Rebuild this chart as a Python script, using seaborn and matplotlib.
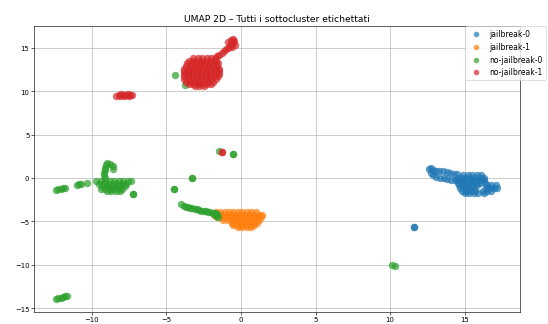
import matplotlib
matplotlib.use("Agg")
import matplotlib.pyplot as plt
import seaborn as sns
import pandas as pd

# UMAP 2D embedding: (x, y) points of each labelled sub-cluster
jailbreak_0 = [
    # elongated left arm
    (12.6, 1.05), (12.75, 1.2), (12.9, 0.95), (13.1, 0.85), (13.3, 0.8), (13.55, 0.75),
    (13.8, 0.65), (14.05, 0.6), (14.3, 0.5), (14.5, 0.5), (12.75, 0.55), (12.9, 0.3),
    (13.1, 0.1), (13.35, 0.0), (13.6, -0.05), (13.85, -0.1), (14.1, -0.2), (14.35, -0.25),
    # main body
    (14.9, 0.35), (15.2, 0.35), (15.5, 0.35), (15.8, 0.35), (16.1, 0.35),
    (14.6, 0.05), (14.9, 0.05), (15.2, 0.05), (15.5, 0.05), (15.8, 0.05), (16.1, 0.05), (16.3, 0.05),
    (14.5, -0.25), (14.8, -0.25), (15.1, -0.25), (15.4, -0.25), (15.7, -0.25), (16.0, -0.25), (16.3, -0.25),
    (14.55, -0.55), (14.85, -0.55), (15.15, -0.55), (15.45, -0.55), (15.75, -0.55), (16.05, -0.55),
    (16.35, -0.55),
    (14.6, -0.85), (14.9, -0.85), (15.2, -0.85), (15.5, -0.85), (15.8, -0.85), (16.5, -0.85),
    (16.8, -0.85), (17.1, -0.85),
    (14.7, -1.15), (15.0, -1.15), (15.3, -1.15), (15.6, -1.15), (16.4, -1.15), (16.7, -1.15),
    (17.0, -1.15), (17.2, -1.15),
    (14.8, -1.45), (15.1, -1.45), (15.4, -1.45), (15.7, -1.45), (16.2, -1.45), (16.5, -1.45), (16.8, -1.45),
    (15.0, -1.7), (15.3, -1.7), (15.6, -1.7), (15.9, -1.7), (16.3, -1.7),
    # isolated point
    (11.6, -5.65), (11.6, -5.6),
]

jailbreak_1 = [
    (-1.7, -3.95), (-1.4, -3.95), (-1.1, -3.95), (-0.8, -3.95), (-0.5, -3.95), (-0.2, -3.95),
    (0.1, -3.95), (0.4, -3.95), (0.7, -3.95), (1.0, -3.95),
    (-1.8, -4.25), (-1.5, -4.25), (-1.2, -4.25), (-0.9, -4.25), (-0.6, -4.25), (-0.3, -4.25),
    (0.0, -4.25), (0.3, -4.25), (0.6, -4.25), (0.9, -4.25), (1.2, -4.25), (1.4, -4.25),
    (-1.6, -4.55), (-1.3, -4.55), (-1.0, -4.55), (-0.7, -4.55), (-0.4, -4.55), (-0.1, -4.55),
    (0.2, -4.55), (0.5, -4.55), (0.8, -4.55), (1.1, -4.55), (1.35, -4.55),
    (-1.2, -4.85), (-0.9, -4.85), (-0.6, -4.85), (-0.3, -4.85), (0.0, -4.85), (0.3, -4.85),
    (0.6, -4.85), (0.9, -4.85), (1.2, -4.85),
    (-0.6, -5.15), (-0.3, -5.15), (0.0, -5.15), (0.3, -5.15), (0.6, -5.15), (0.9, -5.15), (1.1, -5.15),
    (-0.55, -5.45), (-0.25, -5.45), (0.05, -5.45), (0.35, -5.45), (0.65, -5.45), (0.9, -5.45),
    (-0.2, -5.7), (0.1, -5.7), (0.4, -5.7), (0.7, -5.7),
]

no_jailbreak_0 = [
    # thin band running into the jailbreak-1 cluster
    (-4.0, -3.05), (-3.85, -3.2), (-3.7, -3.3), (-3.55, -3.38), (-3.4, -3.45), (-3.25, -3.5),
    (-3.1, -3.55), (-2.95, -3.62), (-2.8, -3.7), (-2.65, -3.75), (-2.5, -3.8), (-2.35, -3.85),
    (-2.2, -3.9), (-2.05, -3.95), (-1.9, -4.0), (-1.75, -4.05), (-1.6, -4.1), (-1.8, -4.2),
    (-1.7, -4.35), (-1.55, -4.5),
    # scattered points
    (-4.5, -1.3), (-4.5, -1.25), (-3.25, -0.05), (-3.25, 0.0),
    (-1.45, 3.15), (-0.55, 2.8), (-0.5, 2.75),
    (10.15, -10.0), (10.3, -10.1),
    (-4.4, 11.9), (-3.75, 10.7),
    # far-left segments
    (-12.4, -1.4), (-12.25, -1.32), (-12.1, -1.25), (-11.95, -1.18), (-11.8, -1.1),
    (-11.0, -0.85), (-10.85, -0.75), (-10.7, -0.68), (-10.3, -0.6),
    # hook above the left cluster
    (-9.15, 0.0), (-9.2, 0.3), (-9.2, 0.6), (-9.15, 0.9), (-9.1, 1.2), (-9.05, 1.5),
    (-8.95, 1.7), (-8.75, 1.6), (-8.6, 1.35), (-8.55, 1.05),
    # left cluster body
    (-9.7, -0.35), (-9.4, -0.35), (-9.1, -0.35), (-8.8, -0.35), (-8.5, -0.35), (-8.2, -0.35),
    (-7.9, -0.35), (-7.6, -0.35), (-7.4, -0.35),
    (-9.5, -0.65), (-9.2, -0.65), (-8.9, -0.65), (-8.6, -0.65), (-8.3, -0.65), (-8.0, -0.65), (-7.7, -0.65),
    (-9.3, -0.95), (-9.0, -0.95), (-8.7, -0.95), (-8.4, -0.95), (-8.1, -0.95), (-7.8, -0.95),
    (-9.4, -1.25), (-9.1, -1.25), (-8.8, -1.25), (-8.5, -1.25), (-8.2, -1.25), (-7.95, -1.25),
    (-9.0, -1.5), (-8.7, -1.5), (-8.4, -1.5), (-8.1, -1.5),
    (-7.25, -1.8), (-7.25, -1.85),
    # bottom-left segment
    (-12.4, -13.9), (-12.25, -13.85), (-12.1, -13.8), (-11.95, -13.72), (-11.8, -13.65), (-11.65, -13.58),
]

no_jailbreak_1 = [
    # small cluster on the left
    (-8.35, 9.4), (-8.2, 9.55), (-8.05, 9.65), (-7.9, 9.6), (-8.1, 9.4), (-7.85, 9.45),
    (-7.6, 9.65), (-7.45, 9.6), (-7.3, 9.5), (-7.5, 9.45), (-7.7, 9.5),
    # main blob
    (-3.2, 13.8), (-2.9, 13.8), (-2.6, 13.8), (-2.3, 13.8), (-2.0, 13.8),
    (-3.5, 13.5), (-3.2, 13.5), (-2.9, 13.5), (-2.6, 13.5), (-2.3, 13.5), (-2.0, 13.5), (-1.7, 13.5),
    (-3.6, 13.2), (-3.3, 13.2), (-3.0, 13.2), (-2.7, 13.2), (-2.4, 13.2), (-2.1, 13.2), (-1.8, 13.2),
    (-1.55, 13.2),
    (-3.7, 12.9), (-3.4, 12.9), (-3.1, 12.9), (-2.8, 12.9), (-2.5, 12.9), (-2.2, 12.9), (-1.9, 12.9),
    (-1.6, 12.9),
    (-3.8, 12.6), (-3.5, 12.6), (-3.2, 12.6), (-2.9, 12.6), (-2.6, 12.6), (-2.3, 12.6), (-2.0, 12.6),
    (-1.7, 12.6), (-1.45, 12.6),
    (-3.85, 12.3), (-3.55, 12.3), (-3.25, 12.3), (-2.95, 12.3), (-2.65, 12.3), (-2.35, 12.3),
    (-2.05, 12.3), (-1.75, 12.3), (-1.5, 12.3),
    (-3.85, 12.0), (-3.55, 12.0), (-3.25, 12.0), (-2.95, 12.0), (-2.65, 12.0), (-2.35, 12.0),
    (-2.05, 12.0), (-1.75, 12.0), (-1.5, 12.0),
    (-3.85, 11.7), (-3.55, 11.7), (-3.25, 11.7), (-2.95, 11.7), (-2.65, 11.7), (-2.35, 11.7),
    (-2.05, 11.7), (-1.75, 11.7), (-1.55, 11.7),
    (-3.8, 11.4), (-3.5, 11.4), (-3.2, 11.4), (-2.9, 11.4), (-2.6, 11.4), (-2.3, 11.4), (-2.0, 11.4),
    (-1.7, 11.4),
    (-3.7, 11.1), (-3.4, 11.1), (-3.1, 11.1), (-2.8, 11.1), (-2.5, 11.1), (-2.2, 11.1), (-1.9, 11.1),
    (-3.5, 10.8), (-3.2, 10.8), (-2.9, 10.8), (-2.6, 10.8), (-2.3, 10.8), (-2.0, 10.8),
    (-3.1, 10.6), (-2.8, 10.6), (-2.5, 10.6),
    # tail towards the upper right
    (-1.75, 13.8), (-1.6, 14.0), (-1.45, 14.2), (-1.3, 14.4), (-1.15, 14.6), (-1.0, 14.8),
    (-0.85, 15.0), (-0.75, 15.2), (-0.65, 15.4), (-0.55, 15.6), (-0.45, 15.8), (-0.5, 16.0),
    (-0.7, 15.9), (-0.85, 15.6), (-0.4, 15.35), (-0.6, 15.1),
    # stray pair near (-1.3, 3)
    (-1.3, 2.95), (-1.25, 3.0),
]

labels = ["jailbreak-0", "jailbreak-1", "no-jailbreak-0", "no-jailbreak-1"]
groups = [jailbreak_0, jailbreak_1, no_jailbreak_0, no_jailbreak_1]

frames = []
for name, pts in zip(labels, groups):
    frame = pd.DataFrame(pts, columns=["x", "y"])
    frame["cluster"] = name
    frames.append(frame)
df = pd.concat(frames, ignore_index=True)

palette = sns.color_palette("tab10", 4)

fig = plt.figure(figsize=(10, 5.93), dpi=54.8)
ax = fig.add_axes([0.062, 0.038, 0.886, 0.879])

for name, color in zip(labels, palette):
    sub = df[df["cluster"] == name]
    sns.scatterplot(data=sub, x="x", y="y", color=color, label=name,
                    s=95, alpha=0.7, linewidth=0, ax=ax)

ax.set_title("UMAP 2D – Tutti i sottocluster etichettati")
ax.set_xlabel("")
ax.set_ylabel("")
ax.tick_params(labelsize=9, pad=2.5)
ax.grid(True)
ax.set_axisbelow(True)
ax.legend(loc="upper left", bbox_to_anchor=(0.888, 1.0), borderaxespad=0,
          markerscale=0.75)

fig.savefig("out.png", dpi=54.8)
